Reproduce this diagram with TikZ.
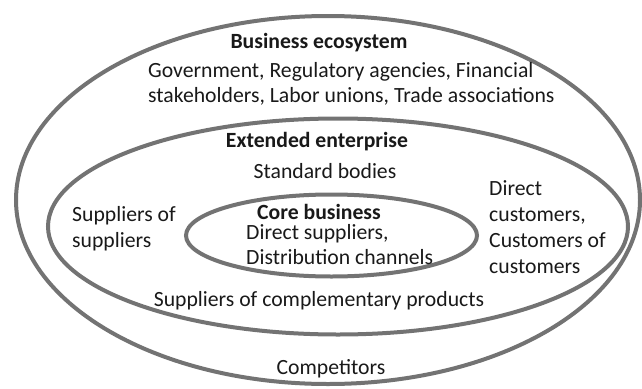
\documentclass[tikz,border=0pt]{standalone}
\usepackage{fontspec}
\setmainfont{Carlito}
\begin{document}
\begin{tikzpicture}[x=1pt,y=-1pt,
  ring/.style={draw=ringgray, line width=4pt},
  label/.style={inner sep=0pt, font=\fontsize{21.7}{26}\selectfont, text=black!90},
  title/.style={label, font=\fontsize{21.7}{26}\selectfont\bfseries},
  block/.style={label, align=left, anchor=north west},
  tight/.style={font=\fontsize{21.7}{25}\selectfont}]
\definecolor{ringgray}{HTML}{737373}
\useasboundingbox (0,0) rectangle (642,388);
% nested ellipses
\draw[ring] (328,200) ellipse [x radius=312, y radius=184];
\draw[ring] (338,226.5) ellipse [x radius=290, y radius=108];
\draw[ring] (331.5,235.5) ellipse [x radius=145.5, y radius=41];
% outer ring text
\node[title] (eco) at (319,43) {Business ecosystem};
\node[block, tight] (ecolist) at (148,62) {Government, Regulatory agencies, Financial\\stakeholders, Labor unions, Trade associations};
\node[label] (comp) at (331,369) {Competitors};
% middle ring text
\node[title] (ext) at (317,142) {Extended enterprise};
\node[label] (std) at (325,171) {Standard bodies};
\node[block] (sos) at (72,206) {Suppliers of\\suppliers};
\node[block] (cust) at (489,180) {Direct\\customers,\\Customers of\\customers};
\node[label] (compl) at (319,301) {Suppliers of complementary products};
% inner ring text
\node[title] (core) at (319,211.5) {Core business};
\node[block, tight] (corelist) at (246,224) {Direct suppliers,\\Distribution channels};
\end{tikzpicture}
\end{document}
